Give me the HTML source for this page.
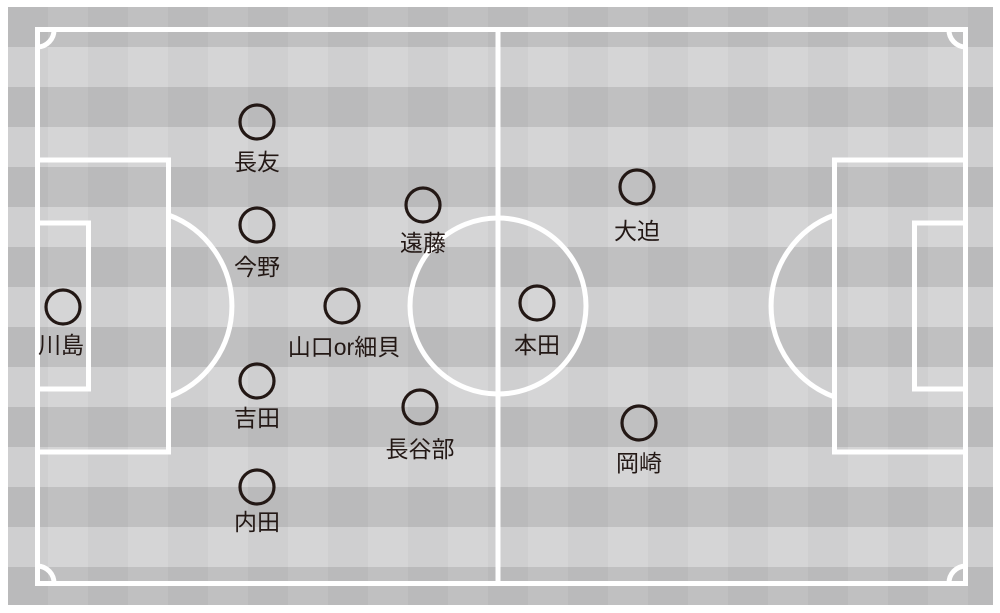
<!DOCTYPE html>
<html><head><meta charset="utf-8"><style>
html,body{margin:0;padding:0;background:#fff;}
svg{display:block}
text{font-family:"Liberation Sans","Noto Sans CJK JP",sans-serif;font-size:23px;fill:#231815;text-anchor:middle}
</style></head><body>
<svg width="1000" height="613" viewBox="0 0 1000 613" xmlns="http://www.w3.org/2000/svg">
<defs>
<pattern id="rows" x="8" y="7" width="80" height="80" patternUnits="userSpaceOnUse">
<rect width="80" height="40" fill="#bebebf"/><rect y="40" width="80" height="40" fill="#d4d4d5"/>
</pattern>
<pattern id="cols" x="8" y="7" width="80" height="80" patternUnits="userSpaceOnUse">
<rect width="40" height="80" fill="#000" opacity="0.025"/><rect x="40" width="40" height="80" fill="#fff" opacity="0.03"/>
</pattern>
</defs>
<rect x="8" y="7" width="985" height="598" fill="url(#rows)"/>
<rect x="8" y="7" width="985" height="598" fill="url(#cols)"/>
<g fill="none" stroke="#fff" stroke-width="5">
<rect x="37.5" y="29.5" width="928" height="554"/>
<line x1="498" y1="29.5" x2="498" y2="583.5"/>
<circle cx="498" cy="306" r="88"/>
<rect x="37.5" y="160" width="131" height="292"/>
<rect x="37.5" y="223" width="51" height="166"/>
<rect x="834.5" y="160" width="131" height="292"/>
<rect x="914.5" y="223" width="51" height="166"/>
<path d="M168.5 215 A97 97 0 0 1 168.5 397"/>
<path d="M834.5 215 A97 97 0 0 0 834.5 397"/>
<path d="M37.5 47 A17 17 0 0 0 54 29.5"/>
<path d="M949 29.5 A17 17 0 0 0 965.5 47"/>
<path d="M37.5 566 A17 17 0 0 1 54 583.5"/>
<path d="M949 583.5 A17 17 0 0 1 965.5 566"/>
</g>
<g fill="none" stroke="#231815" stroke-width="3.2">
<circle cx="257" cy="122" r="17"/>
<circle cx="257" cy="225" r="17"/>
<circle cx="423" cy="205" r="17"/>
<circle cx="342" cy="306" r="17"/>
<circle cx="63" cy="307" r="17"/>
<circle cx="257" cy="381" r="17"/>
<circle cx="420" cy="407" r="17"/>
<circle cx="257" cy="487" r="17"/>
<circle cx="537" cy="303" r="17"/>
<circle cx="637" cy="187" r="17"/>
<circle cx="639" cy="423" r="17"/>
</g>
<text x="257" y="170">長友</text>
<text x="257" y="275">今野</text>
<text x="423" y="251">遠藤</text>
<text x="344" y="355">山口or細貝</text>
<text x="61" y="353">川島</text>
<text x="257" y="426">吉田</text>
<text x="420" y="457">長谷部</text>
<text x="257" y="530">内田</text>
<text x="537" y="353">本田</text>
<text x="637" y="239">大迫</text>
<text x="639" y="471">岡崎</text>
</svg>
</body></html>
